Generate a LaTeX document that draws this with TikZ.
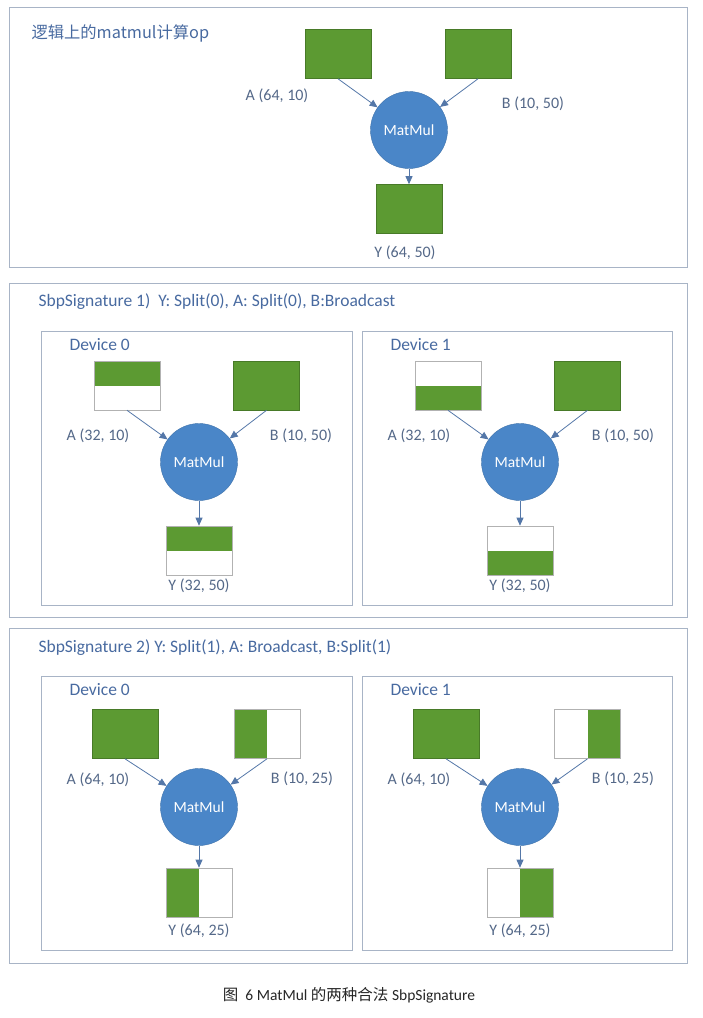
\documentclass[tikz,border=0pt]{standalone}
\usepackage{fontspec}
\setmainfont{Carlito}
\newfontfamily\cjk{Noto Sans CJK SC}
\usetikzlibrary{arrows.meta}

\definecolor{tgreen}{RGB}{92,154,50}
\definecolor{tgreenline}{RGB}{72,122,40}
\definecolor{opblue}{RGB}{74,134,200}
\definecolor{frame}{RGB}{168,180,198}
\definecolor{labeltxt}{RGB}{84,104,136}
\definecolor{titletxt}{RGB}{72,106,160}
\definecolor{arrowc}{RGB}{84,119,168}

\begin{document}
\begin{tikzpicture}[x=1pt, y=-1pt,
    panel/.style={draw=frame, line width=0.8pt},
    tensor/.style={draw=tgreenline, line width=0.6pt, minimum width=66pt, minimum height=49pt, inner sep=0pt},
    full/.style={tensor, fill=tgreen},
    splittop/.style={tensor, draw=gray!60, fill=white, path picture={\fill[tgreen] (path picture bounding box.north west) rectangle (path picture bounding box.east);}},
    splitbot/.style={tensor, draw=gray!60, fill=white, path picture={\fill[tgreen] (path picture bounding box.west) rectangle (path picture bounding box.south east);}},
    splitleft/.style={tensor, draw=gray!60, fill=white, path picture={\fill[tgreen] (path picture bounding box.north west) rectangle (path picture bounding box.south);}},
    splitright/.style={tensor, draw=gray!60, fill=white, path picture={\fill[tgreen] (path picture bounding box.north) rectangle (path picture bounding box.south east);}},
    op/.style={circle, fill=opblue, draw=opblue!85!black, minimum size=77pt, inner sep=0pt, text=white, font=\fontsize{15.5}{18}\selectfont},
    lbl/.style={text=labeltxt, font=\fontsize{16}{19}\selectfont},
    title/.style={anchor=west, text=titletxt, font=\fontsize{17.5}{20}\selectfont},
    flow/.style={draw=arrowc, line width=0.8pt, -{Triangle[length=8pt, width=7pt]}}
  ]
  \useasboundingbox (0,0) rectangle (702,1018);

  % logical op
  \draw[panel] (9,7) rectangle (687,267);
  \node[title, font=\cjk\fontsize{16.3}{19}\selectfont] (logic) at (28,33) {逻辑上的matmul计算op};
  \node[full] (a) at (338,54) {};
  \node[full] (b) at (478,54) {};
  \node[op] (op) at (409,130) {MatMul};
  \node[full] (y) at (409,209) {};
  \node[lbl] (la) at (277,96) {A (64, 10)};
  \node[lbl] (lb) at (533,104) {B (10, 50)};
  \node[lbl] (ly) at (405,253) {Y (64, 50)};
  \draw[flow] (a.south) -- (op);
  \draw[flow] (b.south) -- (op);
  \draw[flow] (op) -- (y);

  % SbpSignature 1
  \draw[panel] (9,283) rectangle (687,617);
  \node[title] (sig1) at (35,302) {SbpSignature 1)\ \ Y: Split(0), A: Split(0), B:Broadcast};

  % SbpSignature 1, device 0
  \draw[panel] (41,331) rectangle (352,605);
  \node[title] (dev10) at (66,345) {Device 0};
  \node[splittop] (a10) at (127,385.5) {};
  \node[full] (b10) at (266.5,385.5) {};
  \node[op] (op10) at (199,462) {MatMul};
  \node[splittop] (y10) at (199,550.5) {};
  \node[lbl] (la10) at (98,436) {A (32, 10)};
  \node[lbl] (lb10) at (301,436) {B (10, 50)};
  \node[lbl] (ly10) at (199,586) {Y (32, 50)};
  \draw[flow] (a10.south) -- (op10);
  \draw[flow] (b10.south) -- (op10);
  \draw[flow] (op10) -- (y10);

  % SbpSignature 1, device 1
  \draw[panel] (362,331) rectangle (672,605);
  \node[title] (dev11) at (387,345) {Device 1};
  \node[splitbot] (a11) at (448,385.5) {};
  \node[full] (b11) at (587.5,385.5) {};
  \node[op] (op11) at (520,462) {MatMul};
  \node[splitbot] (y11) at (520,550.5) {};
  \node[lbl] (la11) at (419,436) {A (32, 10)};
  \node[lbl] (lb11) at (623,436) {B (10, 50)};
  \node[lbl] (ly11) at (520,586) {Y (32, 50)};
  \draw[flow] (a11.south) -- (op11);
  \draw[flow] (b11.south) -- (op11);
  \draw[flow] (op11) -- (y11);

  % SbpSignature 2
  \draw[panel] (9,628) rectangle (687,963);
  \node[title] (sig2) at (35,648) {SbpSignature 2) Y: Split(1), A: Broadcast, B:Split(1)};

  % SbpSignature 2, device 0
  \draw[panel] (41,676) rectangle (352,950);
  \node[title] (dev20) at (66,690) {Device 0};
  \node[full] (a20) at (125,734) {};
  \node[splitleft] (b20) at (267,734) {};
  \node[op] (op20) at (199,807) {MatMul};
  \node[splitleft] (y20) at (199,892.5) {};
  \node[lbl] (la20) at (98,780) {A (64, 10)};
  \node[lbl] (lb20) at (302,779) {B (10, 25)};
  \node[lbl] (ly20) at (199,931) {Y (64, 25)};
  \draw[flow] (a20.south) -- (op20);
  \draw[flow] (b20.south) -- (op20);
  \draw[flow] (op20) -- (y20);

  % SbpSignature 2, device 1
  \draw[panel] (362,676) rectangle (672,950);
  \node[title] (dev21) at (387,690) {Device 1};
  \node[full] (a21) at (446,734) {};
  \node[splitright] (b21) at (587.5,734) {};
  \node[op] (op21) at (520,807) {MatMul};
  \node[splitright] (y21) at (520,892.5) {};
  \node[lbl] (la21) at (419,780) {A (64, 10)};
  \node[lbl] (lb21) at (623,779) {B (10, 25)};
  \node[lbl] (ly21) at (520,931) {Y (64, 25)};
  \draw[flow] (a21.south) -- (op21);
  \draw[flow] (b21.south) -- (op21);
  \draw[flow] (op21) -- (y21);

  % caption
  \node[text=black!85, font=\fontsize{15.5}{18}\selectfont] (caption) at (349,995) {{\cjk 图}\ \ 6 MatMul {\cjk 的两种合法} SbpSignature};
\end{tikzpicture}
\end{document}
